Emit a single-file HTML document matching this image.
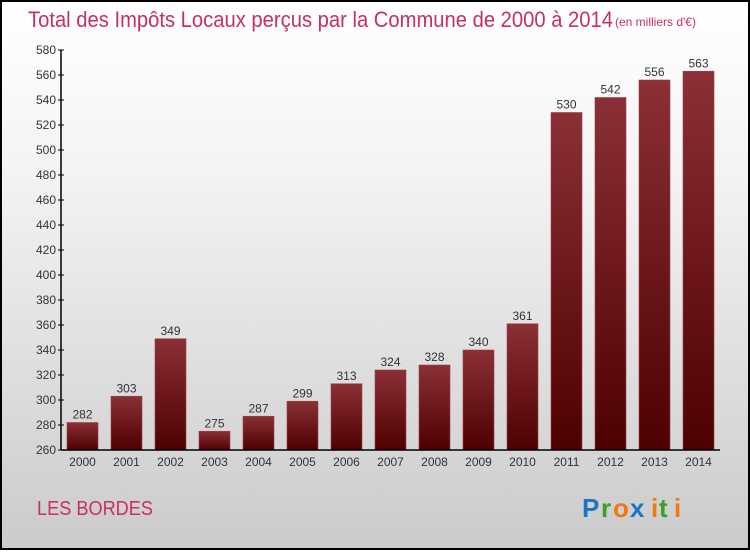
<!DOCTYPE html>
<html><head><meta charset="utf-8"><style>
body{margin:0;width:750px;height:550px;overflow:hidden;font-family:"Liberation Sans",sans-serif}
#wrap{position:absolute;left:0;top:0;width:746px;height:546px;border:2px solid #000;background:linear-gradient(#fff 0%,#f4f4f4 30%,#cbcbcb 100%)}
</style></head><body>
<div id="wrap">
<svg width="746" height="546" viewBox="2 2 746 546" id="svg">
<defs><linearGradient id="bg" x1="0" y1="0" x2="0" y2="1"><stop offset="0" stop-color="#8a3036"/><stop offset="1" stop-color="#4e0000"/></linearGradient></defs>
<text x="28" y="27" font-size="22" fill="#c8305e" textLength="585" lengthAdjust="spacingAndGlyphs">Total des Impôts Locaux perçus par la Commune de 2000 à 2014</text>
<text x="615" y="26" font-size="12" fill="#c8305e">(en milliers d'€)</text>
<text x="37" y="515" font-size="20" fill="#c8305e" textLength="116" lengthAdjust="spacingAndGlyphs">LES BORDES</text>
<g font-size="26" font-weight="bold" font-family="'Liberation Sans',sans-serif">
<text x="582" y="517" fill="#1a74c8">P</text><text x="601" y="517" fill="#3aa02a">r</text><text x="613" y="517" fill="#f07a10">o</text><text x="630" y="517" fill="#1a74c8">x</text><text x="651" y="517" fill="#f07a10">i</text><text x="659" y="517" fill="#3aa02a">t</text><text x="674" y="517" fill="#f07a10">i</text>
</g>
<g id="plot"></g>
</svg>
</div>
<script>
const years=["2000","2001","2002","2003","2004","2005","2006","2007","2008","2009","2010","2011","2012","2013","2014"];
const values=[282,303,349,275,287,299,313,324,328,340,361,530,542,556,563];
const yTicks=[260,280,300,320,340,360,380,400,420,440,460,480,500,520,540,560,580];
const yMin=260,yMax=580,plotTop=50,plotBottom=450,x0=67,step=44,bw=31,axisX=61;
const yScale=v=>plotBottom-(v-yMin)/(yMax-yMin)*(plotBottom-plotTop);
const xb=i=>x0+i*step;
const plotG=document.getElementById('plot');const NS='http://www.w3.org/2000/svg';
function mk(t,a,txt){const e=document.createElementNS(NS,t);for(const k in a)e.setAttribute(k,a[k]);if(txt!==undefined)e.textContent=txt;plotG.appendChild(e);return e;}
values.forEach((v,i)=>{
const r=mk('rect',{x:xb(i),y:yScale(v),width:bw,height:plotBottom-yScale(v),fill:'url(#bg)',stroke:'#a04048','stroke-width':0.6});


const t=mk('text',{x:xb(i)+bw/2,y:yScale(v)-4,'font-size':12,fill:'#333','text-anchor':'middle'},String(v));


const xl=mk('text',{x:xb(i)+bw/2,y:plotBottom+16,'font-size':12,fill:'#333','text-anchor':'middle'},years[i]);


});
yTicks.forEach(v=>{
const l=mk('line',{x1:axisX-3,x2:axisX+3,y1:yScale(v),y2:yScale(v),stroke:'#000'});


const t=mk('text',{x:axisX-5,y:yScale(v)+4,'font-size':12,fill:'#333','text-anchor':'end'},String(v));


});
const ya=mk('line',{x1:axisX,x2:axisX,y1:plotTop,y2:plotBottom,stroke:'#000','stroke-width':1.5});


const xa=mk('line',{x1:axisX,x2:720,y1:plotBottom,y2:plotBottom,stroke:'#000','stroke-width':1.5});


</script>
</body></html>
